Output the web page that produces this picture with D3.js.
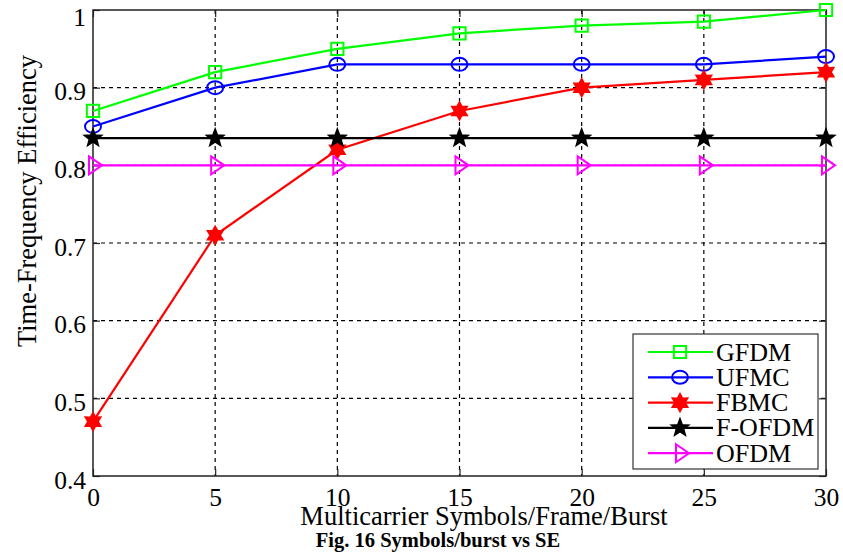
<!DOCTYPE html>
<html>
<head>
<meta charset="utf-8">
<script src="https://cdn.jsdelivr.net/npm/d3@7"></script>
<style>
  body { margin: 0; background: #fff; }
  svg { font-family: "Liberation Serif", "Times New Roman", serif; }
</style>
</head>
<body>
<svg id="chart" width="843" height="560"></svg>
<script>
const xVals = [0, 5, 10, 15, 20, 25, 30];
const gfdm = [0.87, 0.92, 0.95, 0.97, 0.98, 0.985, 1.0];
const ufmc = [0.85, 0.90, 0.93, 0.93, 0.93, 0.93, 0.94];
const fbmc = [0.47, 0.71, 0.82, 0.87, 0.90, 0.91, 0.92];
const fofdm = [0.835, 0.835, 0.835, 0.835, 0.835, 0.835, 0.835];
const ofdm = [0.80, 0.80, 0.80, 0.80, 0.80, 0.80, 0.80];
const xTicks = [0, 5, 10, 15, 20, 25, 30];
const yTicks = [0.4, 0.5, 0.6, 0.7, 0.8, 0.9, 1];

const series = [
  { name: "GFDM", values: gfdm, color: "#00ff00", marker: "square" },
  { name: "UFMC", values: ufmc, color: "#0000ff", marker: "circle" },
  { name: "FBMC", values: fbmc, color: "#ff0000", marker: "hexagram" },
  { name: "F-OFDM", values: fofdm, color: "#000000", marker: "pentagram" },
  { name: "OFDM", values: ofdm, color: "#ff00ff", marker: "triangle" }
];

const mLeft = 93, mRight = 826, mTop = 10, mBottom = 476;
const svg = d3.select("#chart");

const x = d3.scaleLinear().domain([0, 30]).range([mLeft, mRight]);
const y = d3.scaleLinear().domain([0.4, 1]).range([mBottom, mTop]);

// grid (dashed, matlab style)
const grid = svg.append("g").attr("stroke", "#000").attr("stroke-width", 1.2)
  .attr("stroke-dasharray", "4,4");
grid.selectAll(".gx").data(xTicks.slice(1, -1)).join("line")
  .attr("x1", d => x(d)).attr("x2", d => x(d)).attr("y1", mTop).attr("y2", mBottom);
grid.selectAll(".gy").data(yTicks.slice(1, -1)).join("line")
  .attr("y1", d => y(d)).attr("y2", d => y(d)).attr("x1", mLeft).attr("x2", mRight);

// box + inner ticks
svg.append("rect").attr("x", mLeft).attr("y", mTop)
  .attr("width", mRight - mLeft).attr("height", mBottom - mTop)
  .attr("fill", "none").attr("stroke", "#222").attr("stroke-width", 1.5);

svg.append("g").attr("transform", `translate(0,${mBottom})`)
  .call(d3.axisBottom(x).tickValues(xTicks).tickSizeInner(-7).tickSizeOuter(0).tickPadding(12));
const yAxis = svg.append("g").attr("transform", `translate(${mLeft},0)`)
  .call(d3.axisLeft(y).tickValues(yTicks).tickFormat(d => d === 1 ? "1" : d3.format(".1f")(d))
    .tickSizeInner(-7).tickSizeOuter(0).tickPadding(7));
svg.append("g").attr("transform", `translate(0,${mTop})`)
  .call(d3.axisTop(x).tickValues(xTicks).tickSizeInner(-7).tickSizeOuter(0).tickFormat(""));
svg.append("g").attr("transform", `translate(${mRight},0)`)
  .call(d3.axisRight(y).tickValues(yTicks).tickSizeInner(-7).tickSizeOuter(0).tickFormat(""));

svg.selectAll(".domain").remove();
svg.selectAll(".tick line").attr("stroke", "#222").attr("stroke-width", 1.2);
svg.selectAll(".tick text").attr("fill", "#000").attr("font-size", 25.5)
  .attr("font-family", "Liberation Serif, serif");
// matlab puts the labels a little below the tick, the top one even more
yAxis.selectAll(".tick text").attr("transform", d => `translate(0,${d === 1 ? 7 : 4})`);

// markers
function markerPath(type) {
  if (type === "square") return d3.symbol(d3.symbolSquare, 150)();
  if (type === "circle") return "M-8,0A8,6.5 0 1,0 8,0A8,6.5 0 1,0 -8,0Z";
  if (type === "hexagram") {
    const pts = [];
    for (let i = 0; i < 12; i++) {
      const r = i % 2 === 0 ? 8.5 : 4.8;
      const a = Math.PI / 2 + i * Math.PI / 6;
      pts.push([r * Math.cos(a), -r * Math.sin(a)]);
    }
    return "M" + pts.map(p => p.join(",")).join("L") + "Z";
  }
  if (type === "pentagram") {
    const pts = [];
    for (let i = 0; i < 10; i++) {
      const r = i % 2 === 0 ? 8.5 : 3.6;
      const a = Math.PI / 2 + i * Math.PI / 5;
      pts.push([r * Math.cos(a), -r * Math.sin(a)]);
    }
    return "M" + pts.map(p => p.join(",")).join("L") + "Z";
  }
  return "M-4,-9L9,0L-4,9Z";
}
const filled = { hexagram: true, pentagram: true };

const line = d3.line().x((d, i) => x(xVals[i])).y(d => y(d));

series.forEach(s => {
  const g = svg.append("g");
  g.append("path").datum(s.values).attr("d", line)
    .attr("fill", "none").attr("stroke", s.color).attr("stroke-width", 2.2);
  g.selectAll("path.m").data(s.values).join("path").attr("class", "m")
    .attr("d", markerPath(s.marker))
    .attr("transform", (d, i) => `translate(${x(xVals[i])},${y(d)})`)
    .attr("fill", filled[s.marker] ? s.color : "none")
    .attr("stroke", s.color).attr("stroke-width", 2);
});

// legend
const legend = svg.append("g");
legend.append("rect").attr("x", 633).attr("y", 334).attr("width", 185).attr("height", 135)
  .attr("fill", "#fff").attr("stroke", "#333").attr("stroke-width", 1.2);
series.forEach((s, i) => {
  const ly = 352 + i * 25.3;
  legend.append("line").attr("x1", 648).attr("x2", 713).attr("y1", ly).attr("y2", ly)
    .attr("stroke", s.color).attr("stroke-width", 2.2);
  legend.append("path").attr("d", markerPath(s.marker))
    .attr("transform", `translate(680,${ly})`)
    .attr("fill", filled[s.marker] ? s.color : "none")
    .attr("stroke", s.color).attr("stroke-width", 2);
  legend.append("text").attr("x", 716).attr("y", ly + 8.5).attr("font-size", 26)
    .text(s.name);
});

// axis labels
svg.append("text").attr("x", 484).attr("y", 525).attr("text-anchor", "middle")
  .attr("font-size", 26.5).text("Multicarrier Symbols/Frame/Burst");
svg.append("text").attr("transform", "translate(36,201) rotate(-90)")
  .attr("text-anchor", "middle").attr("font-size", 26.5).text("Time-Frequency Efficiency");
svg.append("text").attr("x", 438).attr("y", 547).attr("text-anchor", "middle")
  .attr("font-size", 20.5).attr("font-weight", "bold").text("Fig. 16 Symbols/burst vs SE");
</script>
</body>
</html>
